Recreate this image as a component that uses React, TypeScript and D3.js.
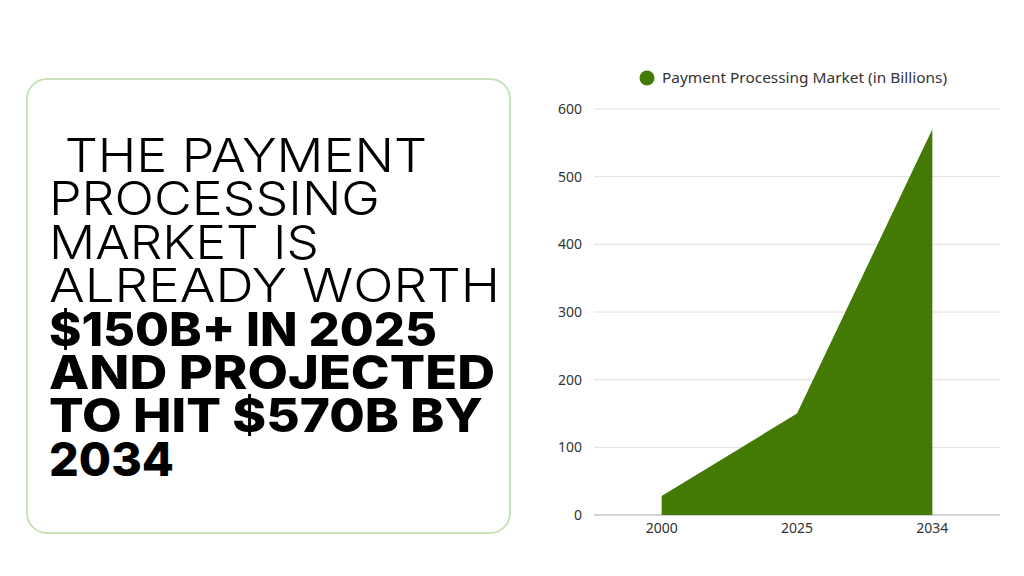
import React from "react";
import * as d3 from "d3";

const categories = ["2000", "2025", "2034"];
const values = [28, 150, 570];
const yTicks = [0, 100, 200, 300, 400, 500, 600];
const seriesName = "Payment Processing Market (in Billions)";
const headlineLight = [" THE PAYMENT", "PROCESSING", "MARKET IS", "ALREADY WORTH"];
const headlineBold = ["$150B+ IN 2025", "AND PROJECTED", "TO HIT $570B BY", "2034"];
const headlineWidths = [377, 331, 270, 451, 388, 446, 434, 125];

const W = 1024;
const H = 576;
const color = "#437a04";

export default function App() {
  const left = 594, right = 1000, top = 109, bottom = 515;
  const x = d3.scaleBand<string>().domain(categories).range([left, right]).padding(0);
  const y = d3.scaleLinear().domain([0, 600]).range([bottom, top]);
  const cx = (c: string) => (x(c) as number) + x.bandwidth() / 2;
  const data = categories.map((c, i) => ({ c, v: values[i] }));
  const area = d3
    .area<{ c: string; v: number }>()
    .x((d) => cx(d.c))
    .y0(y(0))
    .y1((d) => y(d.v));

  const lines = [...headlineLight, ...headlineBold];
  const lineH = 43.4;
  const firstBase = 172;

  return (
    <svg
      width={W}
      height={H}
      style={{ position: "absolute", left: 0, top: 0, background: "#fff" }}
    >
      <rect x={0} y={0} width={W} height={H} fill="#fff" />
      <rect x={27} y={79} width={483} height={454} rx={20} ry={20} fill="#fff" stroke="#c8e2b8" strokeWidth={2} />
      <text fontFamily="Inter, 'Open Sans', sans-serif" fontSize={47} fill="#000" style={{ whiteSpace: "pre" }}>
        {lines.map((t, i) => (
          <tspan
            key={i}
            x={i === 0 ? 50 : 49}
            y={firstBase + i * lineH}
            fontWeight={i < 4 ? 300 : 800}
            textLength={headlineWidths[i]}
            lengthAdjust="spacingAndGlyphs"
          >
            {t}
          </tspan>
        ))}
      </text>

      {yTicks.map((t) => (
        <g key={t}>
          <line x1={left} x2={right} y1={y(t)} y2={y(t)} stroke={t === 0 ? "#aaa" : "#e0e0e0"} strokeWidth={1} />
          <text x={582} y={y(t)} dy="0.35em" textAnchor="end" fontFamily="'Noto Sans', sans-serif" fontSize={14} fill="#333">
            {t}
          </text>
        </g>
      ))}
      <path d={area(data) as string} fill={color} />
      {categories.map((c) => (
        <text key={c} x={cx(c)} y={533} textAnchor="middle" fontFamily="'Noto Sans', sans-serif" fontSize={14} fill="#333">
          {c}
        </text>
      ))}
      <circle cx={647} cy={78} r={7.5} fill={color} />
      <text x={662} y={78} dy="0.35em" fontFamily="'Noto Sans', sans-serif" fontSize={14} fill="#333" textLength={285} lengthAdjust="spacingAndGlyphs">
        {seriesName}
      </text>
    </svg>
  );
}
